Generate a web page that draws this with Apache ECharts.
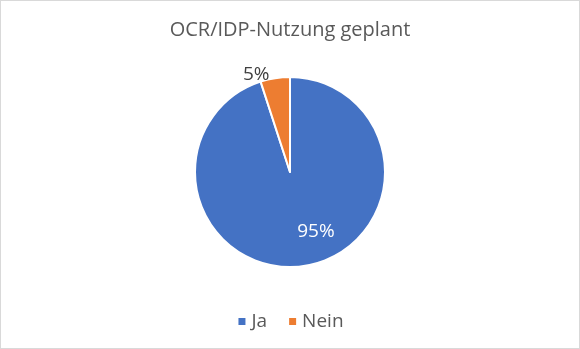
<!DOCTYPE html>
<html>
<head>
<meta charset="utf-8">
<script src="https://cdn.jsdelivr.net/npm/echarts@6/dist/echarts.min.js"></script>
<style>
  html, body { margin: 0; padding: 0; background: #fff; }
  #frame { position: absolute; left: 0; top: 0; width: 578px; height: 347px; border: 1px solid #d9d9d9; }
  #chart { width: 578px; height: 347px; }
</style>
</head>
<body>
<div id="frame"><div id="chart"></div></div>
<script>
const categories = ['Ja', 'Nein'];
const shares = [95, 5];
const colors = ['#4472C4', '#ED7D31'];
const labelPlacement = ['inside', 'outside'];
const labelColors = ['#ffffff', '#404040'];
const labelShift = [[18, 10], [0, 0]];

const chart = echarts.init(document.getElementById('chart'));
chart.setOption({
  animation: false,
  color: colors,
  title: {
    text: 'OCR/IDP-Nutzung geplant',
    left: 'center',
    top: 14,
    textStyle: { fontFamily: 'Open Sans', fontSize: 20, fontWeight: 'normal', color: '#595959' }
  },
  legend: {
    data: categories,
    bottom: 12,
    left: 'center',
    icon: 'rect',
    itemWidth: 9,
    itemHeight: 9,
    itemGap: 20,
    textStyle: { fontFamily: 'Open Sans', fontSize: 19, color: '#595959' }
  },
  series: [{
    type: 'pie',
    center: [289, 171],
    radius: 95,
    startAngle: 90,
    clockwise: true,
    itemStyle: { borderColor: '#fff', borderWidth: 2 },
    labelLine: { show: false, length: 4, length2: 0 },
    data: categories.map((name, i) => ({
      name: name,
      value: shares[i],
      label: {
        show: true,
        position: labelPlacement[i],
        offset: labelShift[i],
        formatter: '{d}%',
        fontFamily: 'Open Sans',
        fontSize: 19,
        color: labelColors[i]
      }
    }))
  }]
});
</script>
</body>
</html>
